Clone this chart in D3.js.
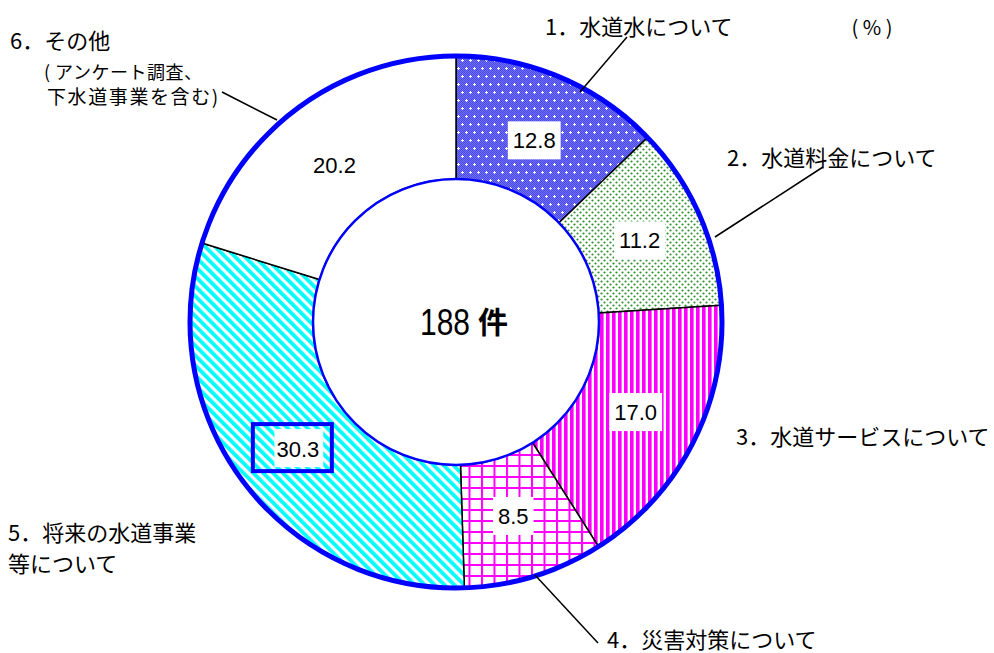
<!DOCTYPE html>
<html><head><meta charset="utf-8">
<script src="https://cdn.jsdelivr.net/npm/d3@7"></script>
<style>
html,body{margin:0;padding:0;background:#fff;}
svg{display:block;}
</style></head>
<body>
<svg id="chart" width="994" height="653"></svg>
<script>
// ---- data ----
const categories = ["水道水について", "水道料金について", "水道サービスについて", "災害対策について", "将来の水道事業等について", "その他"];
const values = [12.8, 11.2, 17.0, 8.5, 30.3, 20.2];
const total = 188;
const unitLabel = "( % )";
const centerNumber = "188";
const centerUnit = "件";

// ---- layout ----
const W = 994, H = 653;
const cx = 456, cy = 322, rOuter = 266, rInner = 143;
const patterns = ["pBlue", "pGreen", "pStripe", "pGrid", "pDiag", "none"];
const labelNudge = [[-2, 7], [-4, 1], [-3, -3], [-3, -2], [5, 3], [0, 8]];
// external label text lines: [x, y, text, size, letterSpacing]
const extLabels = [
  [[545, 35, "1．水道水について", 22, 0]],
  [[727, 166, "2．水道料金について", 22, 0]],
  [[736, 445, "3．水道サービスについて", 22, 0]],
  [[607, 648, "4．災害対策について", 22, 0]],
  [[8, 541, "5．将来の水道事業", 22, 0], [8, 572, "等について", 22, 0]],
  [[10, 49, "6．その他", 22, 0], [44, 79, "( アンケート調査、", 18, 0.5], [47, 104, "下水道事業を含む)", 19, 1.6]]
];
const leaders = [
  [[580, 92], [627, 37]],
  [[715, 237], [823, 167]],
  null,
  [[535, 575], [598, 643]],
  null,
  [[277, 120], [222, 92]]
];

const svg = d3.select("#chart");
const defs = svg.append("defs");

// pattern 1: blue checker with white crosses
{
  const p = defs.append("pattern").attr("id", "pBlue").attr("patternUnits", "userSpaceOnUse")
    .attr("width", 8).attr("height", 16);
  p.append("rect").attr("width", 8).attr("height", 16).attr("fill", "#7070f0");
  for (let y = 0; y < 16; y++) for (let x = 0; x < 8; x++) if ((x + y) % 2 === 0)
    p.append("rect").attr("x", x).attr("y", y).attr("width", 1).attr("height", 1).attr("fill", "#4a4aec");
  [[2, 2], [6, 10]].forEach(([x, y]) => {
    p.append("rect").attr("x", x - 1).attr("y", y).attr("width", 3).attr("height", 1).attr("fill", "#fff");
    p.append("rect").attr("x", x).attr("y", y - 1).attr("width", 1).attr("height", 3).attr("fill", "#fff");
  });
}
// pattern 2: green dots
{
  const p = defs.append("pattern").attr("id", "pGreen").attr("patternUnits", "userSpaceOnUse")
    .attr("width", 6).attr("height", 6);
  p.append("rect").attr("width", 6).attr("height", 6).attr("fill", "#fff");
  [[1.5, 1.5], [4.5, 4.5]].forEach(([x, y]) =>
    p.append("circle").attr("cx", x).attr("cy", y).attr("r", 1.1).attr("fill", "#2f902f"));
}
// pattern 3: magenta vertical stripes
{
  const p = defs.append("pattern").attr("id", "pStripe").attr("patternUnits", "userSpaceOnUse")
    .attr("width", 6).attr("height", 6);
  p.append("rect").attr("width", 6).attr("height", 6).attr("fill", "#fff");
  p.append("rect").attr("width", 3.6).attr("height", 6).attr("fill", "#ff00ff");
}
// pattern 4: magenta grid
{
  const p = defs.append("pattern").attr("id", "pGrid").attr("patternUnits", "userSpaceOnUse")
    .attr("width", 12.5).attr("height", 11);
  p.append("rect").attr("width", 12.5).attr("height", 11).attr("fill", "#fff");
  p.append("rect").attr("x", 0).attr("width", 2).attr("height", 11).attr("fill", "#ff00ff");
  p.append("rect").attr("y", 0).attr("width", 12.5).attr("height", 2).attr("fill", "#ff00ff");
}
// pattern 5: cyan diagonal stripes
{
  const p = defs.append("pattern").attr("id", "pDiag").attr("patternUnits", "userSpaceOnUse")
    .attr("width", 7).attr("height", 7).attr("patternTransform", "rotate(-45)");
  p.append("rect").attr("width", 7).attr("height", 7).attr("fill", "#fff");
  p.append("rect").attr("width", 3.8).attr("height", 7).attr("fill", "#00ffff");
}

const pie = d3.pie().sort(null).value(d => d)(values);
const arc = d3.arc().innerRadius(rInner).outerRadius(rOuter);
const g = svg.append("g").attr("transform", `translate(${cx},${cy})`);

g.selectAll("path.slice").data(pie).join("path")
  .attr("class", "slice")
  .attr("d", arc)
  .attr("fill", (d, i) => patterns[i] === "none" ? "#fff" : `url(#${patterns[i]})`)
  .attr("stroke", "#000").attr("stroke-width", 1.5).attr("stroke-linejoin", "round");

// outer and inner rings
g.append("circle").attr("r", rOuter).attr("fill", "none").attr("stroke", "#0000ff").attr("stroke-width", 5);
g.append("circle").attr("r", rInner).attr("fill", "#fff").attr("stroke", "#0000ff").attr("stroke-width", 2.5);

// value labels
const labelArc = d3.arc().innerRadius(205).outerRadius(205);
pie.forEach((d, i) => {
  const [x0, y0] = labelArc.centroid(d);
  const x = x0 + labelNudge[i][0], y = y0 + labelNudge[i][1];
  const txt = d.data.toFixed(1);
  const lg = g.append("g").attr("transform", `translate(${x},${y})`);
  const t = lg.append("text").attr("text-anchor", "middle").attr("dy", "0.36em")
    .attr("font-family", "Liberation Sans, Arial, sans-serif").attr("font-size", 22)
    .attr("fill", "#000").text(txt);
  const bb = t.node().getBBox();
  if (i === 4) {
    lg.insert("rect", "text").attr("x", bb.x - 2).attr("y", -20)
      .attr("width", bb.width + 6).attr("height", 38).attr("fill", "#fff");
    lg.append("rect").attr("x", -45).attr("y", -25).attr("width", 79).attr("height", 47)
      .attr("fill", "none").attr("stroke", "#0000ff").attr("stroke-width", 4);
  } else if (i !== 5) {
    lg.insert("rect", "text").attr("x", bb.x - 5).attr("y", -19)
      .attr("width", bb.width + 10).attr("height", 38).attr("fill", "#fff");
  }
});

// center label
g.append("text").attr("x", -36).attr("y", 0).attr("dy", "0.36em").attr("text-anchor", "start")
  .attr("font-family", "Liberation Sans, Arial, sans-serif").attr("font-size", 36)
  .attr("textLength", 50).attr("lengthAdjust", "spacingAndGlyphs")
  .attr("fill", "#000").text(centerNumber);
g.append("text").attr("x", 22).attr("y", 0).attr("dy", "0.36em").attr("text-anchor", "start")
  .attr("font-family", "Noto Sans CJK JP, sans-serif").attr("font-size", 30).attr("font-weight", "bold")
  .attr("fill", "#000").text(centerUnit);

// leader lines
leaders.forEach(l => {
  if (!l) return;
  svg.append("line").attr("x1", l[0][0]).attr("y1", l[0][1]).attr("x2", l[1][0]).attr("y2", l[1][1])
    .attr("stroke", "#000").attr("stroke-width", 1.5);
});

// external labels
extLabels.forEach(lines => lines.forEach(([x, y, t, s, ls]) => {
  svg.append("text").attr("x", x).attr("y", y)
    .attr("font-family", "Noto Sans CJK JP, sans-serif").attr("font-size", s)
    .attr("letter-spacing", ls)
    .attr("fill", "#000").text(t);
}));

// unit label
svg.append("text").attr("x", 872).attr("y", 35).attr("text-anchor", "middle")
  .attr("font-family", "Noto Sans CJK JP, sans-serif").attr("font-size", 20)
  .attr("fill", "#000").text(unitLabel);
</script>
</body></html>
